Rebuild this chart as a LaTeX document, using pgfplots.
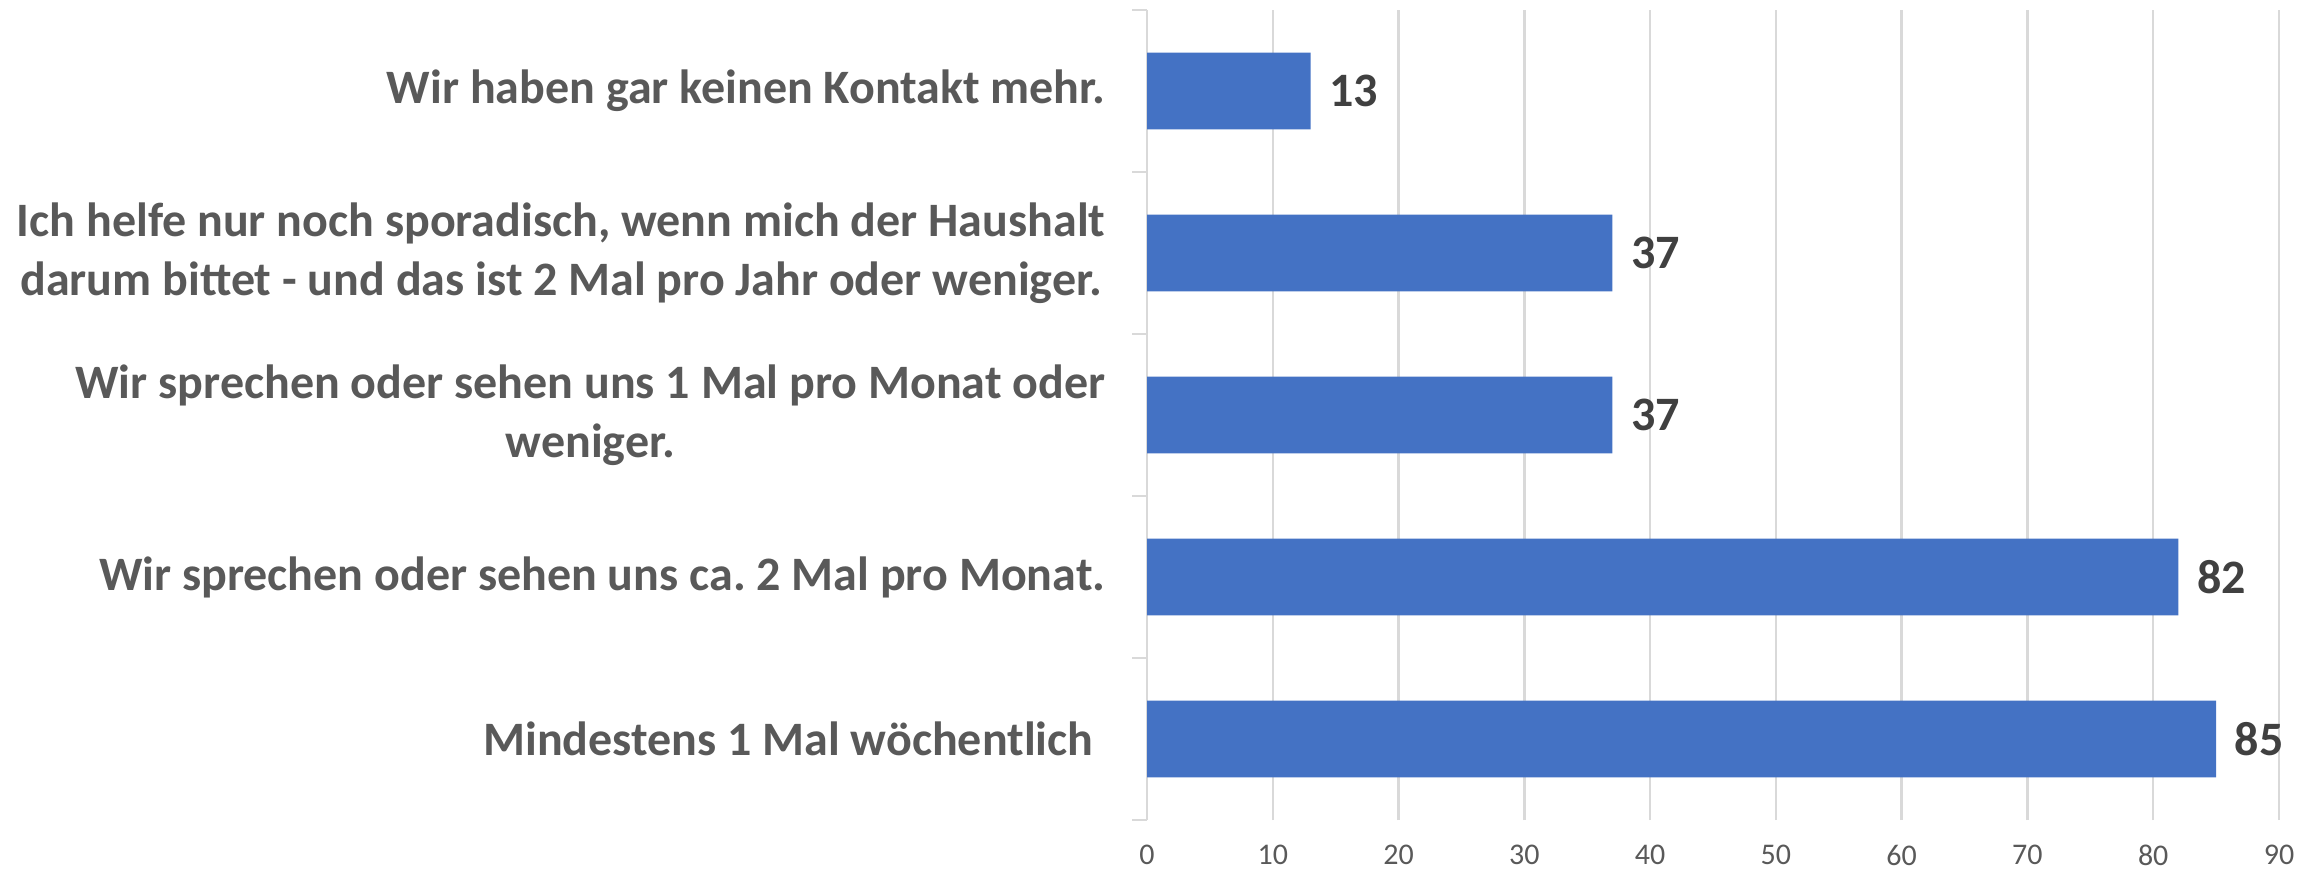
\documentclass[border=0pt]{standalone}
\usepackage{pgfplots}
\pgfplotsset{compat=1.18}
\usepackage{fontspec}
\setmainfont{Carlito}
\frenchspacing
\definecolor{barblue}{HTML}{4472C4}
\definecolor{gridgray}{HTML}{D9D9D9}
\definecolor{labelgray}{HTML}{595959}
\definecolor{valgray}{HTML}{404040}
\begin{document}
\begin{tikzpicture}
\begin{axis}[
    xbar,
    scale only axis,
    width=339.6pt,
    height=243pt,
    xmin=0, xmax=90,
    ymin=-0.5, ymax=4.5,
    bar width=0.475,
    xtick={0,10,...,90},
    ytick={0,1,2,3,4},
    yticklabels={
        {Mindestens 1 Mal wöchentlich\hspace*{0.25em}},
        {Wir sprechen oder sehen uns ca.\ 2 Mal pro Monat.},
        {Wir sprechen oder sehen uns 1 Mal pro Monat oder\\weniger.},
        {Ich helfe nur noch sporadisch, wenn mich der Haushalt\\darum bittet - und das ist 2 Mal pro Jahr oder weniger.},
        {Wir haben gar keinen Kontakt mehr.}},
    minor ytick={-0.5,0.5,1.5,2.5,3.5,4.5},
    major tick length=0pt,
    minor tick length=4.5pt,
    tick align=outside,
    minor tick style={draw=gridgray, line width=0.75pt},
    xmajorgrids,
    grid style={draw=gridgray, line width=0.75pt},
    axis lines*=left,
    x axis line style={draw=none},
    y axis line style={draw=gridgray, line width=0.75pt},
    /pgf/number format/assume math mode=true,
    x tick label style={font=\fontsize{9}{11}\selectfont, text=labelgray, yshift=-4pt},
    y tick label style={font=\fontsize{14.4}{17.7}\selectfont\bfseries, text=labelgray,
        align=center, anchor=east, inner sep=0pt, xshift=-12.3pt},
    nodes near coords,
    nodes near coords style={font=\fontsize{14.4}{17.7}\selectfont\bfseries, text=valgray,
        anchor=west, inner sep=0pt, xshift=5.4pt},
]
\addplot[fill=barblue, draw=none] coordinates {
    (85,0) (82,1) (37,2) (37,3) (13,4)
};
\coordinate (bl) at (rel axis cs:0,0);
\coordinate (tr) at (rel axis cs:1,1);
\end{axis}
\pgfresetboundingbox
\path ([xshift=-344.1pt,yshift=-16.5pt]bl) rectangle ([xshift=11.7pt,yshift=3pt]tr);
\end{tikzpicture}
\end{document}
